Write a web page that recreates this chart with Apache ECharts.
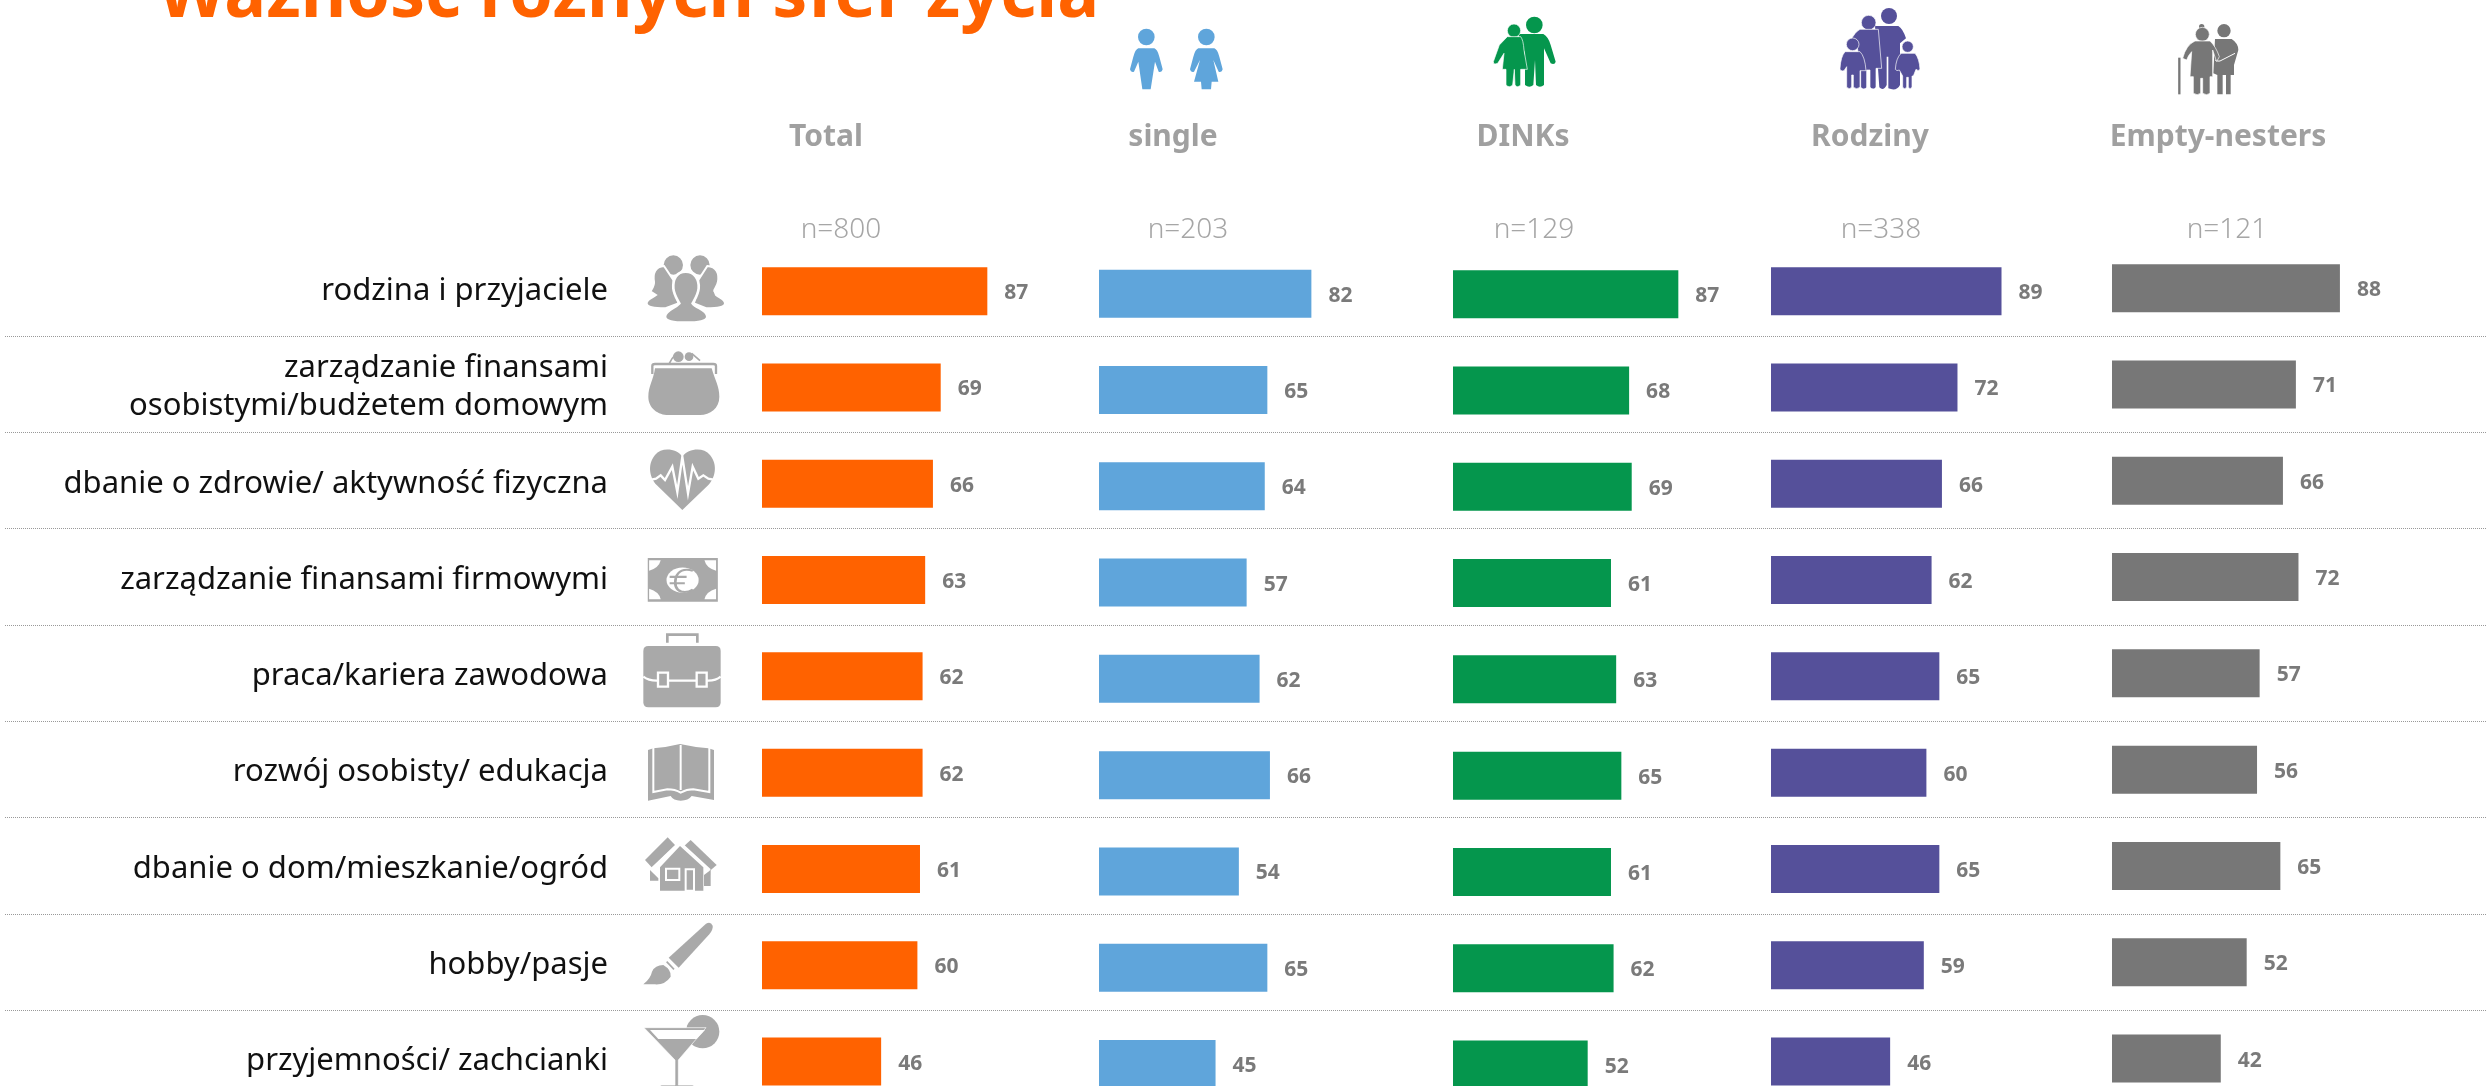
<!DOCTYPE html>
<html>
<head>
<meta charset="utf-8">
<style>html,body{margin:0;padding:0;background:#fff}#main{width:2486px;height:1086px}</style>
<script src="https://cdn.jsdelivr.net/npm/echarts@6/dist/echarts.min.js"></script>
</head>
<body>
<div id="main"></div>
<script>
var categories = ['rodzina i przyjaciele', 'zarządzanie finansami\nosobistymi/budżetem domowym', 'dbanie o zdrowie/ aktywność fizyczna', 'zarządzanie finansami firmowymi', 'praca/kariera zawodowa', 'rozwój osobisty/ edukacja', 'dbanie o dom/mieszkanie/ogród', 'hobby/pasje', 'przyjemności/ zachcianki'];
var groups = ['Total', 'single', 'DINKs', 'Rodziny', 'Empty-nesters'];
var sampleSizes = ['n=800', 'n=203', 'n=129', 'n=338', 'n=121'];
var total = [87, 69, 66, 63, 62, 62, 61, 60, 46];
var single = [82, 65, 64, 57, 62, 66, 54, 65, 45];
var dinks = [87, 68, 69, 61, 63, 65, 61, 62, 52];
var rodziny = [89, 72, 66, 62, 65, 60, 65, 59, 46];
var emptyNesters = [88, 71, 66, 72, 57, 56, 65, 52, 42];
var values = [total, single, dinks, rodziny, emptyNesters];

var colors = ['#ff6200', '#5fa5db', '#05964d', '#55509a', '#777777'];
var gridLeft = [762, 1099, 1453, 1771, 2112];
var gridTop = [243, 245.5, 246, 243, 240];
var headerX = [821, 1168, 1518, 1865, 2213];
var sizeX = [836, 1183, 1529, 1876, 2222];
var rowPitch = 96.3;
var font = '"Noto Sans"';

function c(x, y, r) {
	return 'M' + (x - r) + ' ' + y + 'A' + r + ' ' + r + ' 0 1 0 ' + (x + r) + ' ' + y + 'A' + r + ' ' + r + ' 0 1 0 ' + (x - r) + ' ' + y + 'Z';
}

// icons are drawn in 3x crop units, each part is [path, fill, stroke, lineWidth]
var G = '#a9a9a9', W = '#ffffff';
var icons = [
	{x: 620, y: 240, parts: [
		[c(160, 75, 32), G, W, 6], [c(240, 75, 32), G, W, 6],
		['M132 78C105 80 98 100 102 125C104 140 90 152 92 155L108 165C95 175 80 178 80 190C80 202 105 205 135 205L175 190L160 120Z', G, W, 6],
		['M262 78C290 80 298 100 294 125C292 140 278 152 284 155L288 165C300 175 315 178 315 190C315 202 290 205 260 205L222 190L235 120Z', G, W, 6],
		['M197 95C170 95 158 118 160 145C162 165 172 178 178 190C165 205 135 210 135 230C135 245 165 248 197 248C230 248 262 245 262 230C262 210 230 205 218 190C224 178 234 165 236 145C238 118 224 95 197 95Z', G, W, 8]
	]},
	{x: 620, y: 240, parts: [
		['M105 385L275 385C285 420 298 440 298 470C298 505 270 525 240 525L145 525C115 525 85 505 85 470C85 440 100 420 105 385Z', G],
		['M97 402L97 378Q97 372 105 372L280 372Q288 372 288 378L288 402', 'none', G, 7],
		[c(175, 350, 16), G], [c(207, 350, 13), G],
		['M148 370Q155 355 165 345', 'none', G, 5],
		['M240 362L215 340', 'none', G, 5]
	]},
	{x: 620, y: 240, parts: [
		['M187 650C170 625 125 620 105 645C80 675 90 715 110 735L187 810L265 735C285 715 295 675 270 645C250 620 205 625 187 650Z', G],
		['M80 722L108 716L122 706L135 720L157 680L172 756L187 650L204 760L218 680L235 716L250 706L265 716L295 722', 'none', W, 7]
	]},
	{x: 600, y: 540, sx: 0.4464, sy: 0.3482, parts: [
		['M107 52H264V177H107Z', G],
		['M110 58H136Q132 80 110 88Z', W], ['M260 58H234Q238 80 260 88Z', W],
		['M110 170H136Q132 148 110 140Z', W], ['M260 170H234Q238 148 260 140Z', W],
		[c(185, 115, 36), W],
		['M208 88Q178 78 170 108Q164 140 182 148Q196 152 208 142M156 106H194M156 124H190', 'none', G, 6]
	]},
	{x: 630, y: 630, parts: [
		['M112 38V14H202V38', 'none', G, 8],
		['M55 48H257Q272 48 272 63V217Q272 232 257 232H55Q40 232 40 217V63Q40 48 55 48Z', G],
		['M40 140Q55 152 80 152H235Q258 152 272 140', 'none', W, 7],
		['M84 128H114V170H84Z', G, W, 7], ['M200 128H230V170H200Z', G, W, 7]
	]},
	{x: 630, y: 630, parts: [
		['M54 360L70 355Q110 352 150 342Q195 352 235 355L252 360V510L185 498Q175 512 152 512Q130 512 122 498L54 512Z', G],
		['M70 352V486L112 478Q135 478 152 488Q170 478 190 478L238 486V352', 'none', W, 6],
		['M152 345V480', 'none', W, 6]
	]},
	{x: 630, y: 630, parts: [
		['M113 622L135 645L65 712L45 690Z', G], ['M182 630L260 705L240 722L160 650Z', G],
		['M60 720L85 745V752H60Z', G], ['M222 735L242 720V768H222Z', G],
		['M150 648L220 712V782H90V712Z', G],
		['M62 720L150 638L240 720', 'none', W, 7],
		['M108 716H148V750H108Z', 'none', W, 6],
		['M167 718H192V782H167Z', 'none', W, 6]
	]},
	{x: 630, y: 915, parts: [
		['M116 128L228 26Q242 18 248 32Q250 42 238 58L146 158Z', G],
		['M40 208Q62 190 66 170Q75 150 100 150Q125 165 122 185Q105 210 75 208Z', G],
		['M110 140L132 163', 'none', G, 5]
	]},
	{x: 630, y: 915, parts: [
		[c(218, 350, 50), G],
		['M42 338L228 338L145 435V510H190V514H92V510H135V435Z', G, W, 2],
		['M60 345L225 345L200 372L85 372Z', W]
	]},
	// household pictograms above the columns
	{x: 1100, y: 10, parts: [
		[c(139, 81, 25), colors[1]],
		['M115 115L163 115Q172 118 178 140L188 178Q186 188 176 185L165 155L152 238L127 238L115 155L102 185Q92 188 90 178L100 140Q106 118 115 115Z', colors[1]],
		[c(319, 81, 25), colors[1]],
		['M295 115L343 115Q352 118 358 140L368 178Q366 188 356 185L340 150L355 215L335 215L333 238L305 238L303 215L282 215L300 150L282 185Q272 188 270 178L280 140Q286 118 295 115Z', colors[1]]
	]},
	{x: 1100, y: 10, parts: [
		[c(1303, 45, 25), colors[2]],
		['M1255 72L1330 72Q1345 80 1352 105L1367 155Q1365 165 1352 160L1332 115L1332 225Q1320 235 1308 225L1305 150L1300 225Q1288 235 1275 225L1275 130Z', colors[2]],
		[c(1242, 62, 20), colors[2], W, 2],
		['M1222 80L1262 80Q1270 90 1272 120L1282 178L1262 178L1262 225Q1252 235 1245 225L1243 178L1238 225Q1228 235 1218 225L1218 178L1207 178L1212 130L1193 160Q1180 165 1180 155L1198 105Z', colors[2], W, 2]
	]},
	{x: 1800, y: 0, parts: [
		[c(267, 48, 24), colors[3]],
		['M225 78H295Q308 85 318 115L300 130V255Q290 275 265 265V170H260V255Q250 275 238 262Z', colors[3]],
		[c(206, 68, 22), colors[3], W, 2],
		['M180 88H235L245 205L228 205V262Q220 272 210 262V210H200V262Q192 272 182 262V205L170 130Q165 115 150 125Q165 95 180 88Z', colors[3], W, 2],
		[c(158, 133, 19), colors[3], W, 2],
		['M135 155H180Q195 170 198 212L180 212V262Q170 270 160 262V225H155V262Q148 270 140 262V200L132 212Q120 215 120 205Q122 170 135 155Z', colors[3], W, 2],
		[c(323, 140, 17), colors[3], W, 2],
		['M303 160H345Q358 175 360 208Q355 215 348 208L340 228H336V262Q330 270 325 262V232H320V262Q314 270 308 262V228L298 210Q290 215 286 208Q288 175 303 160Z', colors[3], W, 2]
	]},
	{x: 2160, y: 15, parts: [
		[c(192, 47, 20), colors[4]],
		['M165 72H215Q235 85 235 105L222 150V180H212V238H198V180H188V238H172V180L160 175Z', colors[4]],
		['M165 135Q175 140 180 138L225 115', 'none', W, 3],
		['M58 128V238', 'none', colors[4], 7],
		[c(125, 35, 8), colors[4]],
		[c(127, 58, 21), colors[4], W, 2],
		['M105 78L150 78Q168 95 178 125L170 140L158 105V185H150V235Q140 243 128 235V190H122V235Q112 243 100 235V185H90L95 110Q85 120 80 135L68 130Q78 90 105 78Z', colors[4], W, 2]
	]}
];

var myChart = echarts.init(document.getElementById('main'));

var titles = [{
	text: 'Ważność różnych sfer życia',
	left: 153,
	top: -43,
	textStyle: {color: '#ff6200', fontFamily: font, fontSize: 70, fontWeight: 'bold'}
}];
var grids = [], xAxes = [], yAxes = [], series = [];
for (var i = 0; i < groups.length; i++) {
	titles.push({
		text: groups[i],
		left: headerX[i],
		top: 117,
		textAlign: 'center',
		textStyle: {color: '#a0a0a0', fontFamily: font, fontSize: 30, fontWeight: 'bold'}
	});
	titles.push({
		text: sampleSizes[i],
		left: sizeX[i],
		top: 211,
		textAlign: 'center',
		textStyle: {color: '#a6a6a6', fontFamily: font, fontSize: 28, fontWeight: 300}
	});
	grids.push({left: gridLeft[i], top: gridTop[i], width: 259, height: rowPitch * categories.length, outerBoundsMode: 'none'});
	xAxes.push({gridIndex: i, type: 'value', min: 0, max: 100, show: false});
	yAxes.push({
		gridIndex: i,
		type: 'category',
		inverse: true,
		data: categories,
		axisLine: {show: false},
		axisTick: {show: false},
		axisLabel: {
			show: i === 0,
			interval: 0,
			margin: 154,
			color: '#111111',
			fontFamily: font,
			fontSize: 31,
			lineHeight: 38
		}
	});
	series.push({
		name: groups[i],
		type: 'bar',
		xAxisIndex: i,
		yAxisIndex: i,
		barWidth: 48,
		data: values[i],
		itemStyle: {color: colors[i]},
		label: {
			show: true,
			position: 'right',
			distance: 17,
			offset: [0, 2],
			color: '#7a7a7a',
			fontFamily: font,
			fontSize: 21,
			fontWeight: 'bold'
		}
	});
}

// full width grid that only carries the row separators
grids.push({left: 5, right: 0, top: 239.7, height: rowPitch * categories.length, outerBoundsMode: 'none'});
xAxes.push({gridIndex: 5, type: 'value', show: false});
yAxes.push({
	gridIndex: 5,
	type: 'category',
	inverse: true,
	data: categories,
	axisLine: {show: false},
	axisTick: {show: false},
	axisLabel: {show: false},
	splitLine: {
		show: true,
		interval: 0,
		showMinLine: false,
		lineStyle: {color: '#999999', width: 1, type: 'dotted'}
	}
});

series.push({
	type: 'custom',
	coordinateSystem: 'none',
	silent: true,
	z: 5,
	data: icons.map(function (d, i) { return [i]; }),
	renderItem: function (params) {
		var icon = icons[params.dataIndex];
		return {
			type: 'group',
			x: icon.x,
			y: icon.y,
			scaleX: icon.sx || 1 / 3,
			scaleY: icon.sy || 1 / 3,
			children: icon.parts.map(function (p) {
				return {
					type: 'path',
					shape: {pathData: p[0]},
					style: {fill: p[1], stroke: p[2] || 'none', lineWidth: p[3] || 0}
				};
			})
		};
	}
});

var option = {
	backgroundColor: '#ffffff',
	animation: false,
	title: titles,
	grid: grids,
	xAxis: xAxes,
	yAxis: yAxes,
	series: series
};
myChart.setOption(option, true);
</script>
</body>
</html>
